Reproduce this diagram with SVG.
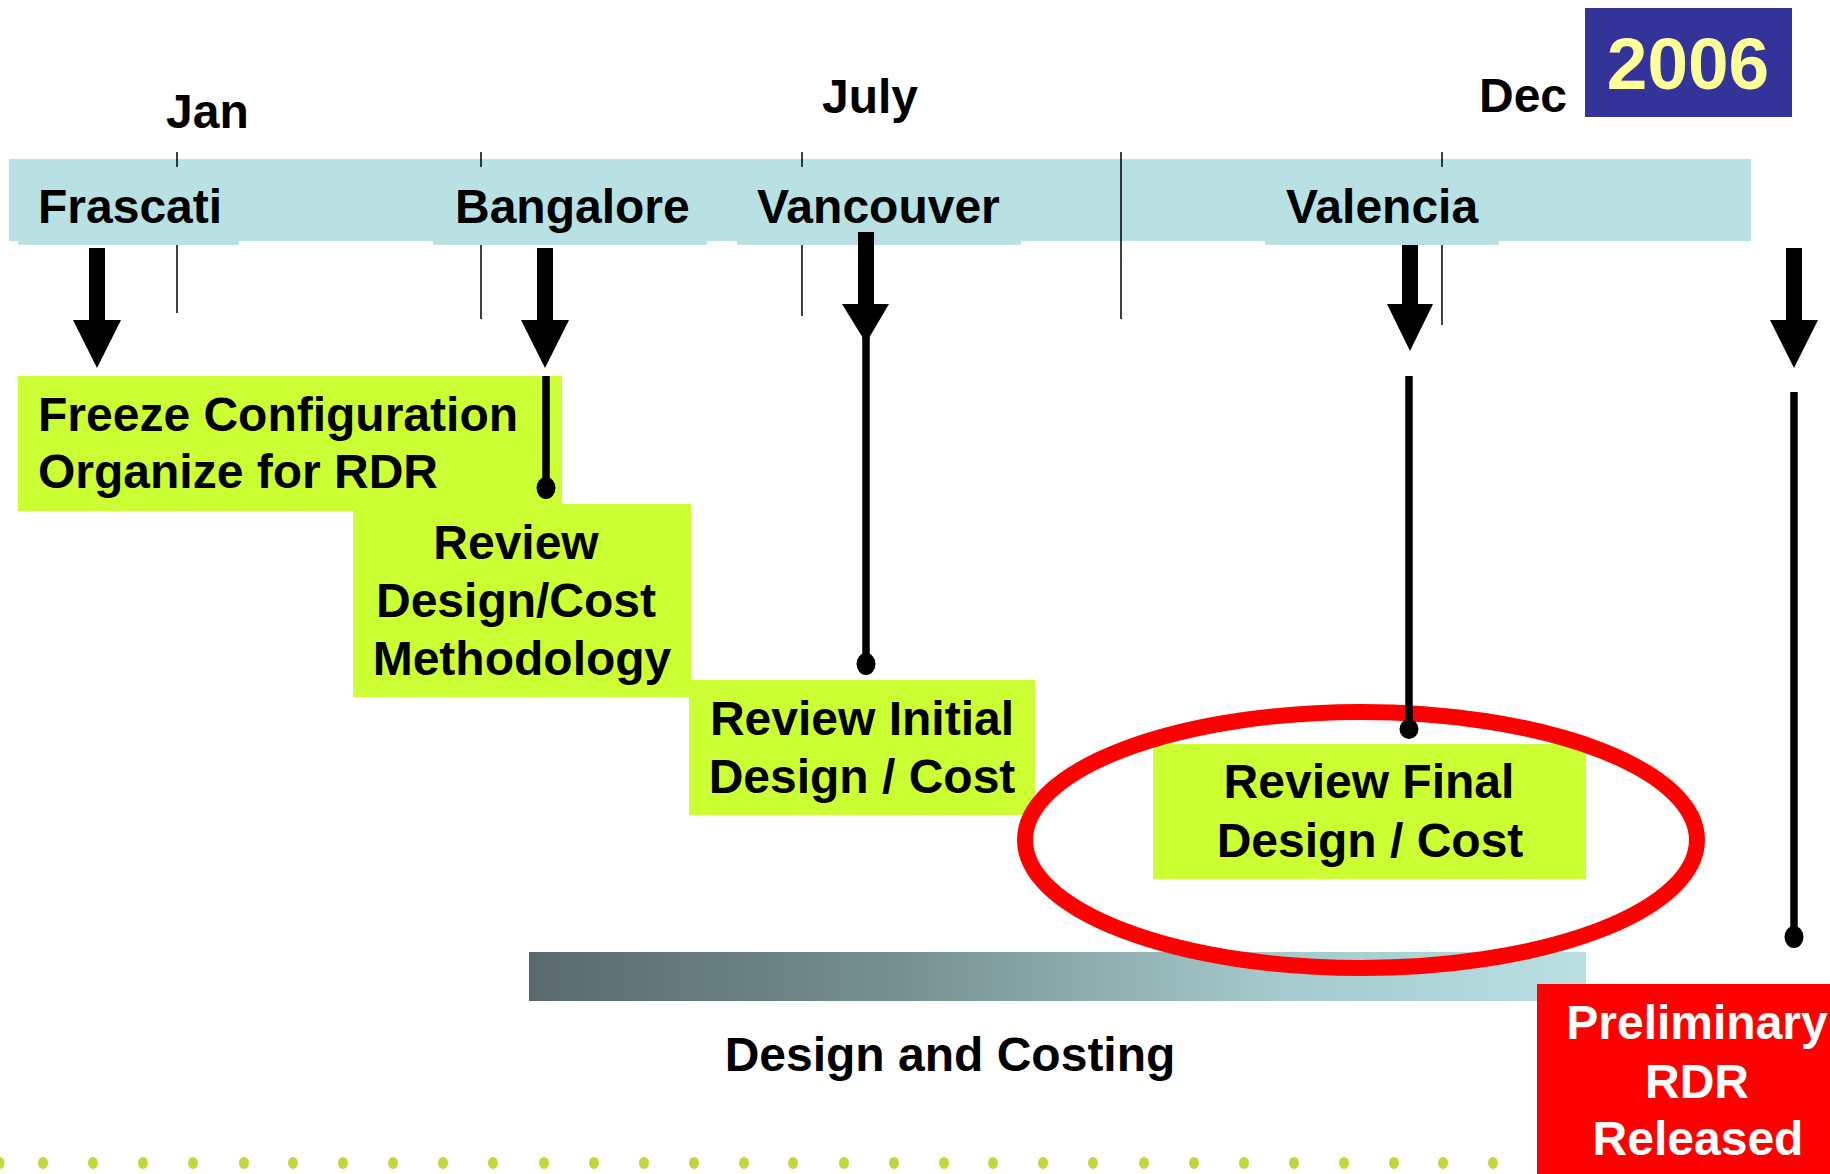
<svg xmlns="http://www.w3.org/2000/svg" width="1830" height="1174" viewBox="0 0 1830 1174">
<defs>
<style>
.t{font-family:"Liberation Sans",Arial,sans-serif;font-weight:bold;font-size:48px;fill:#000}
.c{text-anchor:middle}
.band{fill:#B9E0E3}
.green{fill:#CCFF33}
.tick{stroke:#000;stroke-width:1.5}
.arr{fill:#000}
.ln{stroke:#000;stroke-width:7.5;fill:none}
.dot{fill:#000}
.bd{fill:#C3D63A}
</style>
<linearGradient id="grad" x1="0" y1="0" x2="1" y2="0">
<stop offset="0" stop-color="#5A6A6C"/>
<stop offset="0.35" stop-color="#75908F"/>
<stop offset="0.7" stop-color="#A4C8CB"/>
<stop offset="1" stop-color="#B9E0E3"/>
</linearGradient>
</defs>
<rect width="1830" height="1174" fill="#FFFFFF"/>

<g id="bottom-dots">
<ellipse class="bd" cx="0" cy="1163" rx="4.5" ry="6"/>
<ellipse class="bd" cx="43" cy="1163" rx="5" ry="6"/>
<ellipse class="bd" cx="93" cy="1163" rx="5" ry="6"/>
<ellipse class="bd" cx="143" cy="1163" rx="5" ry="6"/>
<ellipse class="bd" cx="193" cy="1163" rx="5" ry="6"/>
<ellipse class="bd" cx="244" cy="1163" rx="5" ry="6"/>
<ellipse class="bd" cx="293" cy="1163" rx="5" ry="6"/>
<ellipse class="bd" cx="343" cy="1163" rx="5" ry="6"/>
<ellipse class="bd" cx="393" cy="1163" rx="5" ry="6"/>
<ellipse class="bd" cx="443" cy="1163" rx="5" ry="6"/>
<ellipse class="bd" cx="493" cy="1163" rx="5" ry="6"/>
<ellipse class="bd" cx="544" cy="1163" rx="5" ry="6"/>
<ellipse class="bd" cx="594" cy="1163" rx="5" ry="6"/>
<ellipse class="bd" cx="644" cy="1163" rx="5" ry="6"/>
<ellipse class="bd" cx="694" cy="1163" rx="5" ry="6"/>
<ellipse class="bd" cx="744" cy="1163" rx="5" ry="6"/>
<ellipse class="bd" cx="793" cy="1163" rx="5" ry="6"/>
<ellipse class="bd" cx="844" cy="1163" rx="5" ry="6"/>
<ellipse class="bd" cx="894" cy="1163" rx="5" ry="6"/>
<ellipse class="bd" cx="944" cy="1163" rx="5" ry="6"/>
<ellipse class="bd" cx="993" cy="1163" rx="5" ry="6"/>
<ellipse class="bd" cx="1043" cy="1163" rx="5" ry="6"/>
<ellipse class="bd" cx="1093" cy="1163" rx="5" ry="6"/>
<ellipse class="bd" cx="1144" cy="1163" rx="5" ry="6"/>
<ellipse class="bd" cx="1194" cy="1163" rx="5" ry="6"/>
<ellipse class="bd" cx="1244" cy="1163" rx="5" ry="6"/>
<ellipse class="bd" cx="1294" cy="1163" rx="5" ry="6"/>
<ellipse class="bd" cx="1344" cy="1163" rx="5" ry="6"/>
<ellipse class="bd" cx="1394" cy="1163" rx="5" ry="6"/>
<ellipse class="bd" cx="1443" cy="1163" rx="5" ry="6"/>
<ellipse class="bd" cx="1493" cy="1163" rx="5" ry="6"/>
</g>

<g id="timeline">
<rect class="band" x="9" y="159" width="1742" height="82"/>
<line class="tick" x1="177" y1="152" x2="177" y2="313"/>
<line class="tick" x1="481" y1="152" x2="481" y2="319"/>
<line class="tick" x1="802" y1="152" x2="802" y2="316"/>
<line class="tick" x1="1121" y1="152" x2="1121" y2="319"/>
<line class="tick" x1="1442" y1="152" x2="1442" y2="325"/>
<text class="t" x="166" y="128">Jan</text>
<text class="t" x="822" y="113">July</text>
<text class="t" x="1479" y="112">Dec</text>
</g>

<g id="year">
<rect x="1585" y="8" width="207" height="109" fill="#333399"/>
<text class="t c" x="1688" y="89" style="font-size:73px;fill:#FFFF99">2006</text>
</g>

<g id="frascati">
<rect class="band" x="18" y="167" width="221" height="78"/>
<text class="t" x="38" y="223">Frascati</text>
</g>
<g id="bangalore">
<rect class="band" x="433" y="167" width="274" height="78"/>
<text class="t" x="455" y="223">Bangalore</text>
</g>
<g id="vancouver">
<rect class="band" x="737" y="167" width="284" height="78"/>
<text class="t" x="757" y="223">Vancouver</text>
</g>
<g id="valencia">
<rect class="band" x="1265" y="167" width="234" height="78"/>
<text class="t" x="1286" y="223">Valencia</text>
</g>

<g id="freeze">
<rect class="green" x="18" y="376" width="544" height="135"/>
<text class="t" x="38" y="431">Freeze Configuration</text>
<text class="t" x="38" y="488">Organize for RDR</text>
</g>
<g id="review-methodology">
<rect class="green" x="353" y="504" width="338" height="193"/>
<text class="t c" x="516" y="559">Review</text>
<text class="t c" x="516" y="617">Design/Cost</text>
<text class="t c" x="522" y="675">Methodology</text>
</g>
<g id="review-initial">
<rect class="green" x="689" y="680" width="346" height="135"/>
<text class="t c" x="862" y="735">Review Initial</text>
<text class="t c" x="862" y="793">Design / Cost</text>
</g>
<g id="review-final">
<rect class="green" x="1153" y="744" width="433" height="135"/>
<text class="t c" x="1369" y="798">Review Final</text>
<text class="t c" x="1370" y="857">Design / Cost</text>
</g>

<g id="design-costing">
<rect x="529" y="952" width="1057" height="49" fill="url(#grad)"/>
<text class="t c" x="950" y="1071">Design and Costing</text>
</g>

<g id="highlight">
<ellipse cx="1361" cy="840" rx="336" ry="128" fill="none" stroke="#FF0000" stroke-width="16"/>
</g>

<g id="connectors">
<path class="arr" d="M89,248 H105 V320 H121 L97,368 L73,320 H89 Z"/>
<path class="arr" d="M537,248 H553 V320 H569 L545,368 L521,320 H537 Z"/>
<path class="arr" d="M858,232 H874 V304 H889 L866,343 L842,304 H858 Z"/>
<path class="arr" d="M1402,245 H1418 V304 H1433 L1410,351 L1387,304 H1402 Z"/>
<path class="arr" d="M1786,248 H1802 V320 H1818 L1794,368 L1770,320 H1786 Z"/>
<line class="ln" x1="546" y1="376" x2="546" y2="488"/>
<ellipse class="dot" cx="546" cy="488" rx="9.5" ry="11"/>
<line class="ln" x1="866" y1="330" x2="866" y2="664"/>
<ellipse class="dot" cx="866" cy="664" rx="9.5" ry="11"/>
<line class="ln" x1="1409" y1="376" x2="1409" y2="729"/>
<ellipse class="dot" cx="1409" cy="729" rx="9.5" ry="10"/>
<line class="ln" x1="1794" y1="392" x2="1794" y2="937"/>
<ellipse class="dot" cx="1794" cy="937" rx="9.5" ry="11"/>
</g>

<g id="preliminary-rdr">
<rect x="1537" y="984" width="293" height="190" fill="#FF0000"/>
<text class="t c" x="1697" y="1039" style="fill:#FFFFFF">Preliminary</text>
<text class="t c" x="1697" y="1098" style="fill:#FFFFFF">RDR</text>
<text class="t c" x="1698" y="1155" style="fill:#FFFFFF">Released</text>
</g>
</svg>
